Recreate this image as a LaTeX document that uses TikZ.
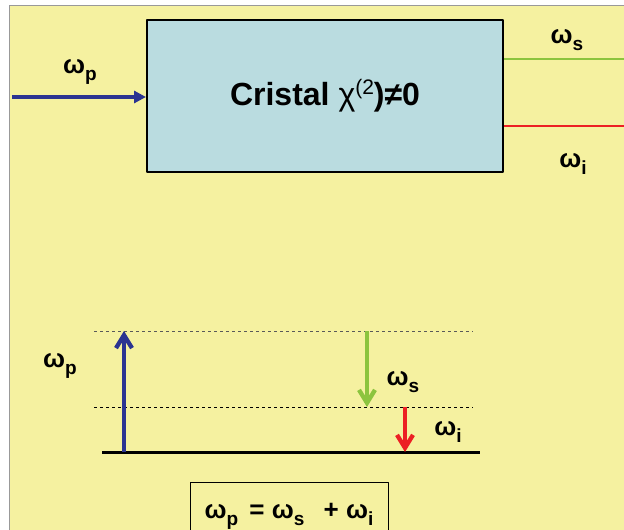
\documentclass[tikz,border=0pt]{standalone}
\usepackage{fontspec}
\setmainfont{Liberation Sans}
\usetikzlibrary{arrows.meta}
\definecolor{fondo}{RGB}{245,241,160}
\definecolor{cristal}{RGB}{186,220,224}
\definecolor{bomba}{RGB}{43,52,145}
\definecolor{senal}{RGB}{140,196,62}
\definecolor{ocioso}{RGB}{236,32,36}
\newcommand{\om}[1]{ω\raisebox{-6.5pt}{\fontsize{19}{19}\selectfont #1}}
\begin{document}
\begin{tikzpicture}[x=1pt,y=-1pt,line join=round,font=\bfseries\fontsize{26}{26}\selectfont,>={Straight Barb[length=13pt,width=16pt]}]
\tikzset{lbl/.style={inner sep=0pt},nivel/.style={dashed,line width=0.8pt}}
\useasboundingbox (0,0) rectangle (624,530);
\clip (0,0) rectangle (624,530);
\fill[fondo] (9,5) rectangle (640,540);
\draw[gray!80,line width=1pt] (9,540)--(9,5)--(640,5);
% cristal
\node[draw,line width=2pt,fill=cristal,minimum width=356pt,minimum height=152pt,font=\bfseries\fontsize{32}{32}\selectfont] (cristal) at (325,96)
  {Cristal {\mdseries χ\raisebox{11pt}{\fontsize{21}{21}\selectfont (2}})≠0\hspace{4pt}};
\coordinate (ent) at (12,97);
\coordinate (sals) at (640,59);
\coordinate (sali) at (640,126);
\draw[bomba,line width=4pt,-{Triangle[length=12pt,width=12pt]}] (ent)--(cristal.west|-ent);
\draw[senal,line width=1.5pt,-{Triangle[length=8pt,width=8pt]}] (cristal.east|-sals)--(sals);
\draw[ocioso,line width=1.5pt,-{Triangle[length=8pt,width=8pt]}] (cristal.east|-sali)--(sali);
\node[lbl] (wp) at (80,72) {\om{p}};
\node[lbl] (ws) at (567,40) {\om{s}};
\node[lbl] (wi) at (573,164) {\om{i}};
% niveles
\coordinate (n0a) at (102,452); \coordinate (n0b) at (480,452);
\coordinate (n1a) at (94,407); \coordinate (n1b) at (473,407);
\coordinate (n2a) at (94,331); \coordinate (n2b) at (473,331);
\draw[line width=3pt] (n0a)--(n0b);
\draw[nivel] (n1a)--(n1b);
\draw[nivel,gray!70!black] (n2a)--(n2b);
\coordinate (pa) at (124,452); \coordinate (pb) at (124,331);
\coordinate (sa) at (367,331); \coordinate (sb) at (367,407);
\coordinate (ia) at (405,407); \coordinate (ib) at (405,452);
\draw[->,bomba,line width=4.3pt] (pa)--(pb);
\draw[->,senal,line width=4.3pt] (sa)--(sb);
\draw[->,ocioso,line width=4.3pt] (ia)--(ib);
\node[lbl] (wp2) at (60,366) {\om{p}};
\node[lbl] (ws2) at (403,382) {\om{s}};
\node[lbl] (wi2) at (448,432) {\om{i}};
% conservacion
\node[draw,line width=1pt,anchor=north,inner sep=0pt,minimum width=198pt,text height=36pt,text depth=30pt] (suma) at (289,482)
  {\om{p}\hspace{4pt} = \om{s}\hspace{12pt} + \om{i}};
\end{tikzpicture}
\end{document}
